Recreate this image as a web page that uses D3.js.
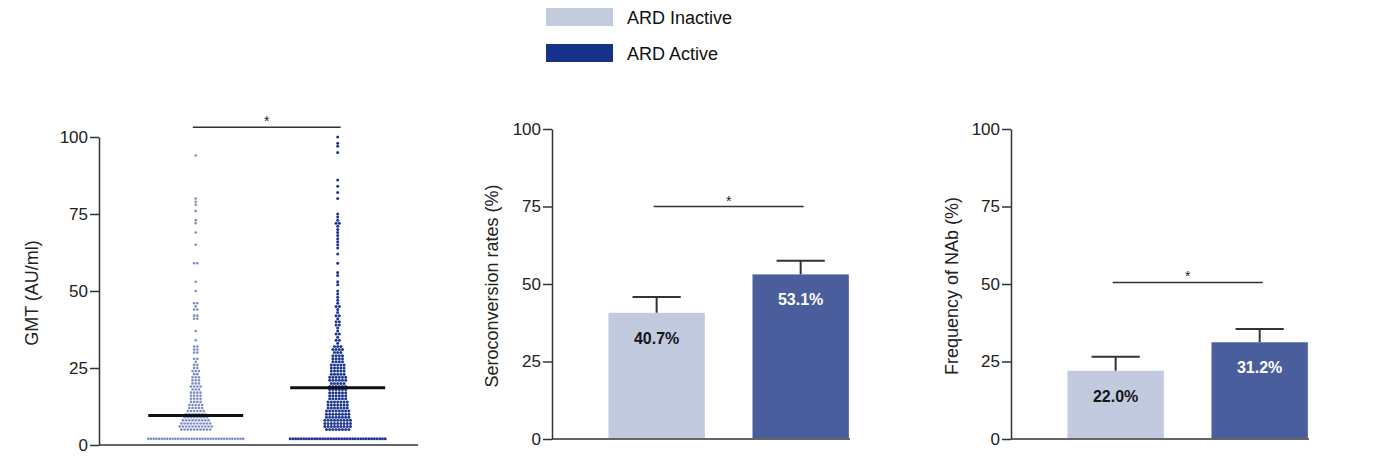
<!DOCTYPE html>
<html>
<head>
<meta charset="utf-8">
<script src="https://cdn.jsdelivr.net/npm/d3@7"></script>
<style>
  body { margin: 0; background: #fff; }
  svg { display: block; font-family: "Liberation Sans", Arial, sans-serif; }
  .axis path, .axis line { stroke: #333; stroke-width: 1.5; }
  .axis text { font-size: 17px; fill: #222; font-family: "Liberation Sans", Arial, sans-serif; }
</style>
</head>
<body>
<svg id="chart" width="1374" height="461"></svg>
<script>
const groups = ["ARD Inactive", "ARD Active"];
const legendColors = ["#c3cbdf", "#16318a"];
const barColors = ["#c1cadf", "#4a5e9d"];
const dotColors = ["#7d8cc4", "#1d3790"];
const yTicks = [0, 25, 50, 75, 100];

// GMT scatter, [value, number of subjects at that value]; 2 = below detection
const gmtInactive = [
  [2, 36], [5, 10], [6, 11], [7, 10], [8, 9], [9, 8], [10, 7], [11, 6], [12, 5],
  [13, 5], [14, 4], [15, 4], [16, 4], [17, 4], [18, 3], [19, 4], [20, 3], [21, 3],
  [22, 3], [23, 2], [24, 3], [25, 2], [26, 2], [27, 1], [28, 2], [30, 2], [31, 2],
  [32, 2], [34, 1], [37, 1], [41, 2], [42, 2], [44, 2], [45, 1], [46, 2], [50, 1],
  [53, 1], [59, 2], [65, 1], [69, 1], [72, 1], [73, 1], [76, 1], [78, 1], [79, 1],
  [80, 1], [94, 1]
];
const gmtActive = [
  [2, 36], [5, 8], [6, 9], [7, 9], [8, 9], [9, 8], [10, 8], [11, 8], [12, 7],
  [13, 7], [14, 7], [15, 6], [16, 6], [17, 6], [18, 6], [19, 6], [20, 5], [21, 6],
  [22, 6], [23, 5], [24, 5], [25, 5], [26, 5], [27, 4], [28, 4], [29, 4], [30, 3],
  [31, 4], [32, 3], [33, 1], [34, 2], [35, 1], [36, 2], [37, 1], [38, 1], [39, 2],
  [40, 2], [41, 1], [42, 2], [43, 1], [44, 1], [45, 2], [46, 1], [47, 1], [48, 1],
  [49, 1], [50, 1], [52, 1], [53, 1], [55, 1], [56, 1], [59, 1], [62, 1], [64, 1],
  [65, 1], [66, 1], [67, 1], [68, 1], [69, 1], [70, 1], [71, 1], [72, 2], [73, 1],
  [74, 1], [75, 1], [80, 1], [82, 1], [84, 1], [86, 1], [95, 1], [97, 1], [98, 1],
  [100, 1]
];
const gmtMean = [9.6, 18.6];

const seroRate = [40.7, 53.1];
const seroErr = [5.1, 4.4];
const nabRate = [22.0, 31.2];
const nabErr = [4.5, 4.3];

const sigLevel = [103.2, 75, 50.5];

const svg = d3.select("#chart");

const panels = [
  { x0: 99, x1: 418, top: 137, bottom: 445, labelX: 32, title: "GMT (AU/ml)", pOuter: 0.289, align: 0.6 },
  { x0: 552, x1: 850, top: 129, bottom: 439, labelX: 492, title: "Seroconversion rates (%)", pOuter: 0.2, align: 0.98 },
  { x0: 1011, x1: 1309, top: 129, bottom: 439, labelX: 952, title: "Frequency of NAb (%)", pOuter: 0.2, align: 0.98 }
];

panels.forEach((p) => {
  p.x = d3.scaleBand().domain(groups).range([p.x0, p.x1])
    .paddingInner(0.331).paddingOuter(p.pOuter).align(p.align);
  p.y = d3.scaleLinear().domain([0, 100]).range([p.bottom, p.top]);
  p.g = svg.append("g");
});

// axes
panels.forEach((p) => {
  p.g.append("g")
    .attr("class", "axis")
    .attr("transform", `translate(${p.x0},0)`)
    .call(d3.axisLeft(p.y).tickValues(yTicks).tickSize(9).tickSizeOuter(0).tickPadding(2));
  p.g.append("line")
    .attr("x1", p.x0).attr("x2", p.x1)
    .attr("y1", p.bottom).attr("y2", p.bottom)
    .attr("stroke", "#333").attr("stroke-width", 1.5);
  p.g.append("text")
    .attr("transform", `translate(${p.labelX},${(p.top + p.bottom) / 2 + 2}) rotate(-90)`)
    .attr("text-anchor", "middle")
    .attr("dy", "0.35em")
    .attr("font-size", 18)
    .attr("fill", "#222")
    .text(p.title);
});

// scatter panel
const ps = panels[0];
[gmtInactive, gmtActive].forEach((rows, gi) => {
  const bw = ps.x.bandwidth();
  const cx = ps.x(groups[gi]) + bw / 2;
  const pts = [];
  rows.forEach(([v, n]) => {
    const sp = n > 1 ? Math.min(3.2, bw / (n - 1)) : 0;
    for (let i = 0; i < n; i++) pts.push({ x: cx + (i - (n - 1) / 2) * sp, y: ps.y(v) });
  });
  ps.g.append("g").selectAll("circle").data(pts).join("circle")
    .attr("cx", (d) => d.x).attr("cy", (d) => d.y)
    .attr("r", gi === 0 ? 1.3 : 1.5)
    .attr("fill", dotColors[gi]);
  ps.g.append("line")
    .attr("x1", ps.x(groups[gi])).attr("x2", ps.x(groups[gi]) + bw)
    .attr("y1", ps.y(gmtMean[gi])).attr("y2", ps.y(gmtMean[gi]))
    .attr("stroke", "#111").attr("stroke-width", 3);
});

// bar panels
[[panels[1], seroRate, seroErr], [panels[2], nabRate, nabErr]].forEach(([p, vals, errs]) => {
  const bw = p.x.bandwidth();
  const data = groups.map((g, i) => ({ g, i, v: vals[i], e: errs[i] }));
  const eb = p.g.append("g").attr("stroke", "#333").attr("stroke-width", 2);
  data.forEach((d) => {
    const cx = p.x(d.g) + bw / 2;
    eb.append("line").attr("x1", cx).attr("x2", cx)
      .attr("y1", p.y(d.v)).attr("y2", p.y(d.v + d.e));
    eb.append("line").attr("x1", cx - bw / 4).attr("x2", cx + bw / 4)
      .attr("y1", p.y(d.v + d.e)).attr("y2", p.y(d.v + d.e));
  });
  p.g.append("g").selectAll("rect").data(data).join("rect")
    .attr("x", (d) => p.x(d.g)).attr("width", bw)
    .attr("y", (d) => p.y(d.v)).attr("height", (d) => p.y(0) - p.y(d.v) - 1)
    .attr("fill", (d) => barColors[d.i]);
  p.g.append("g").selectAll("text").data(data).join("text")
    .attr("x", (d) => p.x(d.g) + bw / 2)
    .attr("y", (d) => p.y(d.v) + 31)
    .attr("text-anchor", "middle")
    .attr("font-size", 16).attr("font-weight", "bold")
    .attr("fill", (d) => (d.i === 0 ? "#151515" : "#fff"))
    .text((d) => d.v.toFixed(1) + "%");
});

// significance brackets
panels.forEach((p, i) => {
  const bw = p.x.bandwidth();
  const yy = p.y(sigLevel[i]);
  p.g.append("line")
    .attr("x1", p.x(groups[0]) + bw / 2 - 3).attr("x2", p.x(groups[1]) + bw / 2 + 3)
    .attr("y1", yy).attr("y2", yy)
    .attr("stroke", "#333").attr("stroke-width", 1.5);
  p.g.append("text")
    .attr("x", (p.x(groups[0]) + p.x(groups[1]) + bw) / 2)
    .attr("y", yy - 1)
    .attr("text-anchor", "middle")
    .attr("font-size", 14)
    .attr("fill", "#222")
    .text("*");
});

// legend
const lg = svg.append("g").attr("transform", "translate(546,8)");
groups.forEach((g, i) => {
  lg.append("rect").attr("x", 0).attr("y", i * 36).attr("width", 67).attr("height", 18)
    .attr("fill", legendColors[i]);
  lg.append("text").attr("x", 81).attr("y", i * 36 + 16)
    .attr("font-size", 18).attr("fill", "#111").text(g);
});
</script>
</body>
</html>
